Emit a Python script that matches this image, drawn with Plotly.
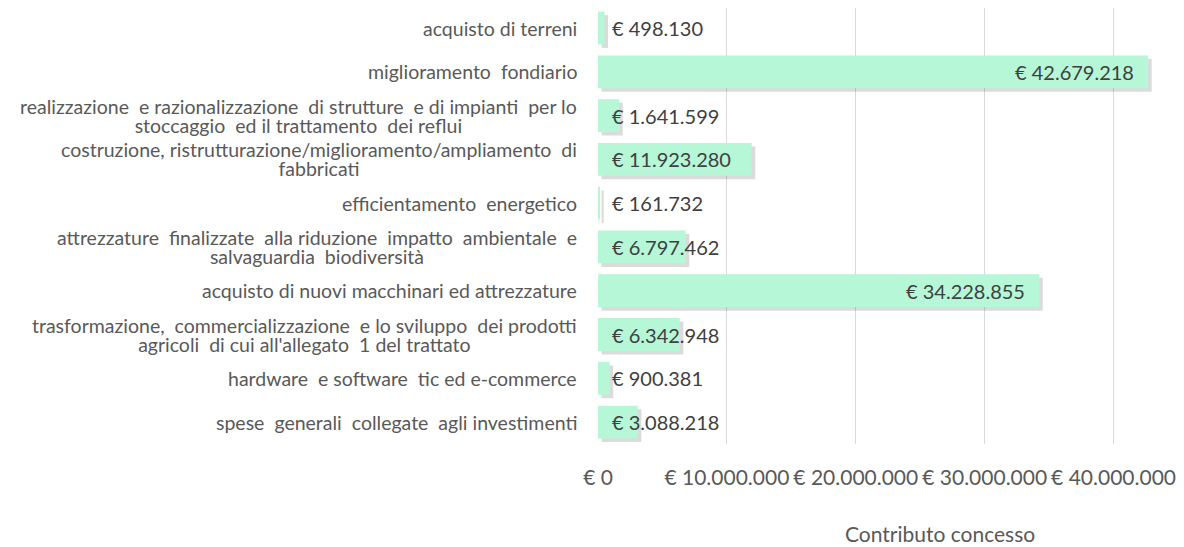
import plotly.graph_objects as go

categorie = [
    "acquisto di terreni",
    "miglioramento  fondiario",
    "realizzazione  e razionalizzazione  di strutture  e di impianti  per lo<br>stoccaggio  ed il trattamento  dei reflui",
    "costruzione, ristrutturazione/miglioramento/ampliamento  di<br>fabbricati",
    "efficientamento  energetico",
    "attrezzature  finalizzate  alla riduzione  impatto  ambientale  e<br>salvaguardia  biodiversità",
    "acquisto di nuovi macchinari ed attrezzature",
    "trasformazione,  commercializzazione  e lo sviluppo  dei prodotti<br>agricoli  di cui all'allegato  1 del trattato",
    "hardware  e software  tic ed e-commerce",
    "spese  generali  collegate  agli investimenti",
]
contributo = [498130, 42679218, 1641599, 11923280, 161732, 6797462, 34228855, 6342948, 900381, 3088218]

tick_vals = [0, 10000000, 20000000, 30000000, 40000000]
tick_text = ["€ 0", "€ 10.000.000", "€ 20.000.000", "€ 30.000.000", "€ 40.000.000"]

FONT = "Lato"
mint = "#b5f7d7"
grigio = "#595959"

fig = go.Figure()

# ombra sotto le barre (spostata un po' a destra e in basso)
fig.add_trace(go.Bar(
    y=categorie, x=contributo, orientation="h",
    base=280000, width=0.75, offset=-0.375 + 0.08,
    marker=dict(color="rgba(0,0,0,0.14)", line=dict(width=0)),
    hoverinfo="skip", showlegend=False,
))
fig.add_trace(go.Bar(
    y=categorie, x=contributo, orientation="h",
    width=0.75, offset=-0.375,
    marker=dict(color=mint, line=dict(width=0)),
    showlegend=False,
))

# etichette dei valori
for cat, v in zip(categorie, contributo):
    testo = "€ " + f"{v:,}".replace(",", ".")
    if v > 20000000:
        fig.add_annotation(x=v, y=cat, xref="x", yref="y", text=testo,
                           showarrow=False, xanchor="right", xshift=-12,
                           font=dict(family=FONT, size=20, color="#404040"))
    else:
        fig.add_annotation(x=0, y=cat, xref="x", yref="y", text=testo,
                           showarrow=False, xanchor="left", xshift=12,
                           font=dict(family=FONT, size=20, color="#404040"))

# etichette delle categorie: la dimensione base piccola stringe l'interlinea,
# lo span riporta il testo a 19.5px
for cat in categorie:
    righe = cat.split("<br>")
    testo = "<br>".join('<span style="font-size:19.5px">' + r + "</span>" for r in righe)
    fig.add_annotation(x=0, y=cat, xref="paper", yref="y", text=testo,
                       showarrow=False, xanchor="right", xshift=-19, align="center",
                       font=dict(family=FONT, size=14.5, color=grigio))

fig.add_annotation(x=0.59, y=-0.206, xref="paper", yref="paper",
                   text="Contributo concesso", showarrow=False, yanchor="middle",
                   font=dict(family=FONT, size=21, color=grigio))

fig.update_layout(
    width=1176, height=539,
    margin=dict(l=590, r=6, t=0, b=103),
    paper_bgcolor="white", plot_bgcolor="white",
    barmode="overlay",
    xaxis=dict(range=[0, 45000000], tickvals=tick_vals, ticktext=tick_text,
               showgrid=True, gridcolor="#d9d9d9", gridwidth=1,
               zeroline=False, showline=False, ticklabelstandoff=19,
               tickfont=dict(family=FONT, size=21, color=grigio)),
    yaxis=dict(categoryorder="array", categoryarray=categorie,
               range=[9.5, -0.457], showticklabels=False,
               showgrid=False, zeroline=False),
)

fig.write_html("out.html")
